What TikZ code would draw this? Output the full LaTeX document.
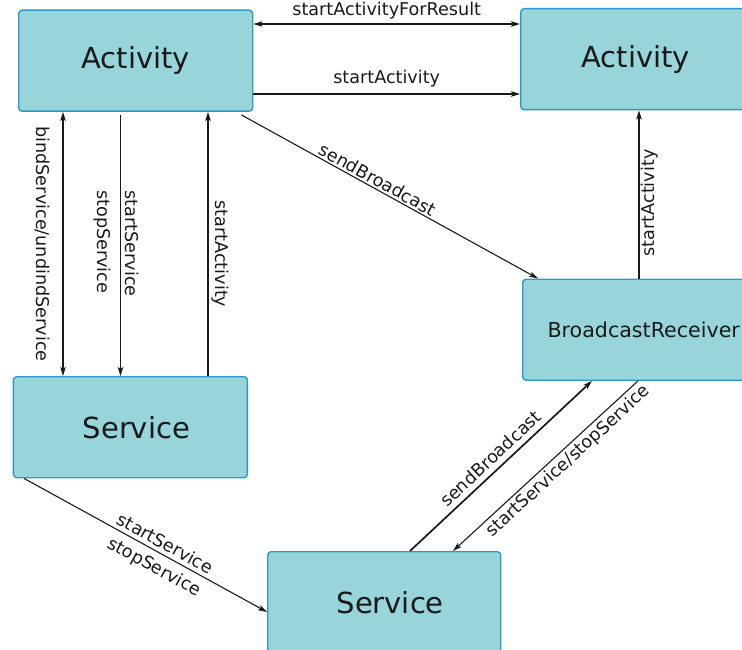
\documentclass[tikz,border=0pt]{standalone}
\usepackage{fontspec}
\setmainfont{DejaVu Sans}
\usetikzlibrary{arrows.meta,calc}
\definecolor{boxfill}{RGB}{151,213,219}
\definecolor{boxline}{RGB}{45,152,206}
\definecolor{ink}{RGB}{25,25,25}
\begin{document}
\begin{tikzpicture}[x=1pt,y=-1pt,
  box/.style={draw=boxline, fill=boxfill, line width=1.4pt, rounded corners=3.5pt,
              anchor=north west, inner sep=0pt, text=ink,
              font=\fontsize{29}{34}\selectfont},
  conn/.style={draw=ink, line width=1.1pt, -{Stealth[length=9pt,width=5.5pt,inset=2pt]}},
  lbl/.style={font=\fontsize{17.6}{20}\selectfont, text=ink, inner sep=2pt}]
\useasboundingbox (0,0) rectangle (742,650);
\clip (0,0) rectangle (742,650);

% boxes
\node[box, minimum width=234pt, minimum height=101pt] (A1) at (18,9.5) {Activity};
\node[box, minimum width=230pt, minimum height=101pt] (A2) at (520,8) {Activity};
\node[box, minimum width=242pt, minimum height=101pt,
      font=\fontsize{20.6}{24}\selectfont] (BR) at (522,278.5) {BroadcastReceiver};
\node[box, minimum width=234pt, minimum height=101pt,
      label={[xshift=6pt, text=ink, font=\fontsize{29}{34}\selectfont]center:Service}] (S1) at (12.7,376) {};
\node[box, minimum width=233pt, minimum height=101pt,
      label={[xshift=6pt, text=ink, font=\fontsize{29}{34}\selectfont]center:Service}] (S2) at (267,551) {};

% Activity <-> Activity
\draw[conn, {Stealth[length=9pt,width=5.5pt,inset=2pt]}-{Stealth[length=9pt,width=5.5pt,inset=2pt]}]
  (A1.east |- 0,24) -- node[lbl, midway, anchor=base, yshift=8pt] {startActivityForResult} (A2.west |- 0,24);
\draw[conn] (A1.east |- 0,94) -- node[lbl, midway, anchor=base, yshift=10pt] {startActivity} (A2.west |- 0,94);

% Activity -> BroadcastReceiver
\draw[conn] ($(A1.south east)+(-12,3)$) -- node[lbl, pos=0.445, sloped, above, inner sep=2pt] {sendBroadcast} (BR.north west -| 538,0);

% Activity <-> Service (vertical)
\draw[conn, {Stealth[length=9pt,width=5.5pt,inset=2pt]}-{Stealth[length=9pt,width=5.5pt,inset=2pt]}]
  (A1.south -| 63,0) -- node[lbl, midway, xshift=-21pt, rotate=-90] {bindService/undindService} (S1.north -| 63,0);
\draw[conn] ($(A1.south -| 120.5,0)+(0,3.5)$) --
  node[lbl, midway, xshift=-18.5pt, yshift=4pt, rotate=-90] {stopService}
  node[lbl, midway, xshift=12pt, yshift=2pt, rotate=-90] {startService}
  (S1.north -| 120.5,0);
\draw[conn] (S1.north -| 208,0) -- node[lbl, midway, xshift=12pt, yshift=-10pt, rotate=-90] {startActivity} (A1.south -| 208,0);

% BroadcastReceiver -> Activity
\draw[conn] (BR.north -| 639,0) -- node[lbl, midway, xshift=11pt, yshift=-8.5pt, rotate=90] {startActivity} (A2.south -| 639,0);

% Service -> Service
\draw[conn] (S1.south -| 24,0) --
  node[lbl, pos=0.56, sloped, above, inner sep=4pt] {startService}
  node[lbl, pos=0.567, sloped, below, inner sep=6.5pt] {stopService}
  (S2.west |- 0,612);

% Service <-> BroadcastReceiver
\draw[conn, line width=1.7pt] (S2.north -| 410,0) -- node[lbl, pos=0.49, sloped, above, inner sep=5pt] {sendBroadcast} (BR.south -| 592,0);
\draw[conn, {Stealth[length=9pt,width=5.5pt,inset=2pt]}-] (S2.north -| 453,0) -- node[lbl, pos=0.58, sloped, below, inner sep=3pt] {startService/stopService} (BR.south -| 638,0);
\end{tikzpicture}
\end{document}
